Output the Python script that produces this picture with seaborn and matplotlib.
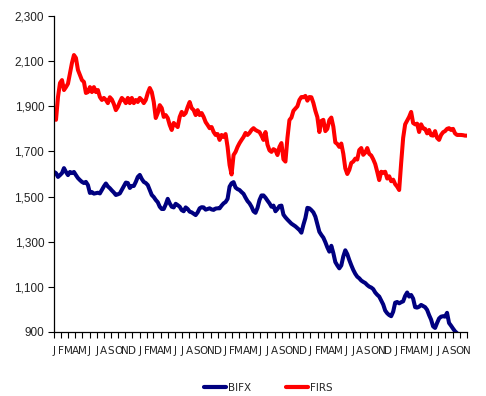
import numpy as np
import pandas as pd
import matplotlib
matplotlib.use("Agg")
import matplotlib.pyplot as plt
from matplotlib.lines import Line2D
from matplotlib.ticker import FuncFormatter
import seaborn as sns

# Weekly index levels, Jan 2004 - Nov 2008
bifx = [
    1609, 1604, 1587, 1595, 1604, 1626, 1609, 1595, 1609, 1604,
    1609, 1595, 1582, 1573, 1565, 1560, 1565, 1551, 1516, 1520,
    1513, 1515, 1517, 1514, 1530, 1545, 1558, 1545, 1537, 1527,
    1518, 1507, 1510, 1514, 1530, 1545, 1562, 1560, 1538, 1547,
    1547, 1565, 1587, 1596, 1578, 1565, 1560, 1551, 1529, 1507,
    1498, 1485, 1475, 1455, 1445, 1445, 1465, 1490, 1470, 1455,
    1452, 1468, 1462, 1455, 1440, 1435, 1452, 1445, 1433, 1430,
    1424, 1418, 1430, 1448, 1453, 1452, 1442, 1445, 1448, 1443,
    1441, 1447, 1448, 1448, 1460, 1470, 1476, 1490, 1544, 1559,
    1564, 1540, 1533, 1529, 1520, 1512, 1495, 1480, 1470,
    1455, 1435, 1428, 1450, 1485, 1505, 1505, 1495, 1482, 1470,
    1455, 1460, 1435, 1445, 1458, 1460, 1420, 1408, 1398, 1389,
    1380, 1374, 1368, 1360, 1352, 1340, 1375, 1405, 1450, 1448,
    1440, 1430, 1411, 1378, 1344, 1330, 1318, 1298, 1275, 1256,
    1282, 1250, 1210, 1195, 1182, 1195, 1235, 1262, 1245, 1219,
    1196, 1175, 1158, 1145, 1138, 1128, 1122, 1117, 1108, 1101,
    1097, 1090, 1075, 1065, 1057, 1040, 1022, 995, 983, 975,
    970, 990, 1030, 1033, 1027, 1032, 1036, 1060, 1075, 1057,
    1064, 1048, 1010, 1008, 1012, 1020, 1015, 1010, 998, 975,
    955, 925, 918, 940, 960, 968, 970, 968, 985, 940,
    928, 915, 903, 895, np.nan, np.nan, np.nan, np.nan, np.nan,
]

firs = [
    1855, 1840, 1941, 2003, 2016, 1972, 1985, 2000, 2047, 2092,
    2127, 2114, 2061, 2039, 2016, 2008, 1959, 1963, 1985, 1963,
    1985, 1963, 1972, 1941, 1928, 1937, 1928, 1914, 1940, 1930,
    1910, 1883, 1897, 1919, 1937, 1928, 1914, 1937, 1914, 1937,
    1914, 1928, 1919, 1937, 1928, 1914, 1928, 1959, 1981, 1963,
    1919, 1848, 1870, 1905, 1892, 1853, 1861, 1848, 1817, 1795,
    1826, 1817, 1808, 1853, 1875, 1861, 1870, 1897, 1919, 1892,
    1883, 1861, 1883, 1861, 1870, 1853, 1830, 1817, 1803, 1808,
    1786, 1773, 1777, 1751, 1773, 1764, 1777, 1720, 1640, 1598,
    1684, 1698, 1720, 1737, 1751, 1764, 1782, 1773, 1782,
    1795, 1803, 1795, 1790, 1786, 1770, 1751, 1786, 1730, 1705,
    1698, 1710, 1705, 1684, 1720, 1737, 1665, 1655, 1760, 1839,
    1850, 1880, 1890, 1900, 1928, 1941, 1940, 1946, 1925, 1941,
    1940, 1915, 1880, 1852, 1786, 1835, 1840, 1790, 1800, 1839,
    1850, 1810, 1740, 1733, 1720, 1735, 1690, 1625, 1600, 1618,
    1649, 1655, 1668, 1664, 1706, 1715, 1685, 1695, 1715, 1689,
    1682, 1665, 1644, 1610, 1573, 1610, 1605, 1610, 1580, 1590,
    1568, 1575, 1555, 1544, 1529, 1649, 1760, 1820, 1836, 1853,
    1875, 1826, 1820, 1823, 1786, 1820, 1802, 1800, 1780, 1795,
    1772, 1770, 1790, 1760, 1751, 1773, 1785, 1790, 1800, 1803,
    1795, 1800, 1780, 1773, 1773, 1773, 1772, 1770, 1770,
]

series_names = ["BIFX", "FIRS"]
series_colors = ["#000080", "#FF0000"]
month_initials = ["J", "F", "M", "A", "M", "J", "J", "A", "S", "O", "N", "D"]
y_ticks = [900, 1100, 1300, 1500, 1700, 1900, 2100, 2300]

dates = pd.date_range("2004-01-01", "2008-11-01", periods=len(firs))
wide = pd.DataFrame({"date": dates, "BIFX": bifx, "FIRS": firs})
df = wide.melt(id_vars="date", var_name="series", value_name="value")

sns.set_style("white")
narrow = ["Liberation Sans Narrow", "DejaVu Sans"]
regular = ["Liberation Sans", "DejaVu Sans"]
plt.rcParams["font.family"] = narrow

W, H = 486, 396
fig = plt.figure(figsize=(W / 100, H / 100), dpi=100)
ax = fig.add_axes([54 / W, 1 - 332 / H, (467 - 54) / W, (332 - 16) / H])

palette = dict(zip(series_names, series_colors))
sns.lineplot(data=df, x="date", y="value", hue="series", hue_order=series_names,
             palette=palette, linewidth=2.9, legend=False, ax=ax,
             solid_joinstyle="round")

ax.set_ylim(900, 2300)
ax.set_yticks(y_ticks)
ax.yaxis.set_major_formatter(FuncFormatter(lambda v, p: f"{v:,.0f}"))

month_ticks = pd.date_range("2004-01-01", "2008-11-01", freq="MS")
ax.set_xlim(month_ticks[0], month_ticks[-1])
ax.set_xticks(month_ticks)
ax.set_xticklabels([month_initials[d.month - 1] for d in month_ticks])
ax.set_xlabel("")
ax.set_ylabel("")

for side in ["top", "right"]:
    ax.spines[side].set_visible(False)
for side in ["left", "bottom"]:
    ax.spines[side].set_color("black")
    ax.spines[side].set_linewidth(0.9)

ax.tick_params(axis="both", direction="out", length=4, width=0.8,
               colors="black", labelcolor="#222222")
ax.tick_params(axis="x", pad=6, labelsize=7.5)
ax.tick_params(axis="y", pad=3)
ax.tick_params(left=True, bottom=True)
for lab in ax.get_yticklabels():
    lab.set_family(regular)
    lab.set_fontsize(8.5)

handles = [Line2D([], [], color=c, linewidth=3) for c in series_colors]
fig.legend(handles, series_names, loc="center", bbox_to_anchor=(0.552, 0.02),
           ncol=2, frameon=False, handlelength=2.1, handletextpad=0.2,
           columnspacing=3.4, fontsize=7.5)

fig.savefig("out.png", dpi=100)
